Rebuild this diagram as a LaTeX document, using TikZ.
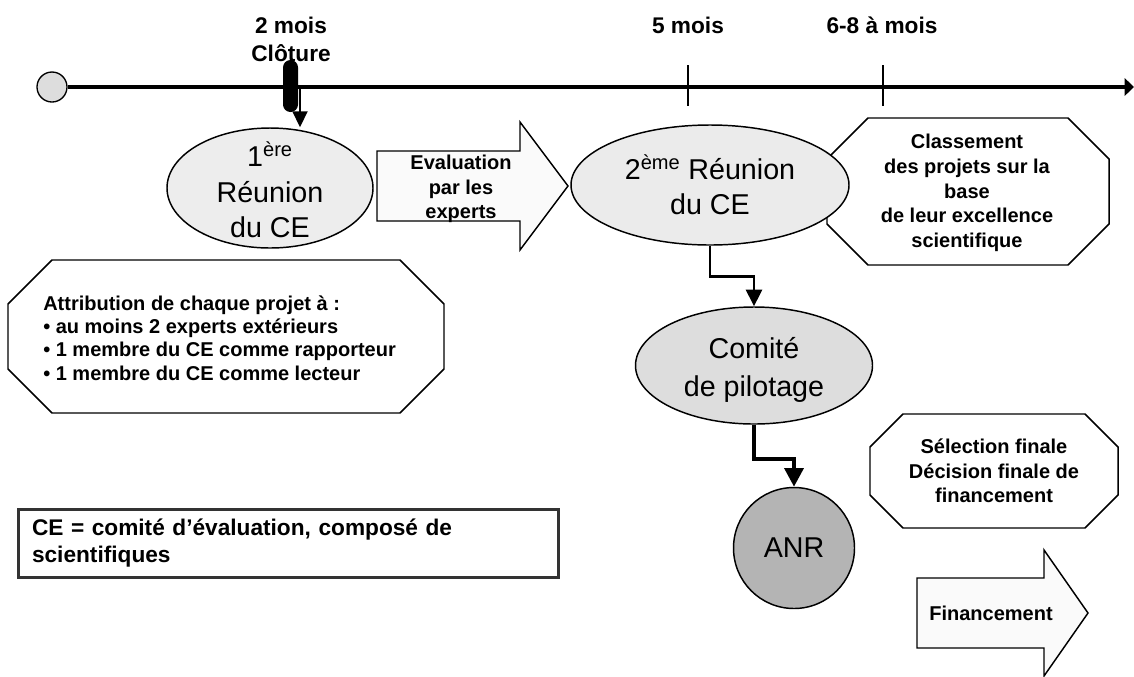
\documentclass[tikz,border=0pt]{standalone}
\usepackage{fontspec}
\setmainfont{Liberation Sans}
\usetikzlibrary{arrows.meta,shapes.geometric}
\definecolor{ellA}{HTML}{EDEDED}
\definecolor{ellB}{HTML}{EBEBEB}
\definecolor{ellC}{HTML}{DDDDDD}
\definecolor{anrC}{HTML}{B4B4B4}
\definecolor{arrF}{HTML}{FAFAFA}
\definecolor{boxB}{HTML}{333333}
\newcommand\myoct[5]{\draw[shp,fill=white] ({#1+#5},#2) -- ({#3-#5},#2) -- (#3,{#2+#5}) -- (#3,{#4-#5}) -- ({#3-#5},#4) -- ({#1+#5},#4) -- (#1,{#4-#5}) -- (#1,{#2+#5}) -- cycle;}
\begin{document}
\begin{tikzpicture}[x=0.75pt,y=-0.75pt,
  ell/.style={ellipse,draw=black,line width=1.1pt,inner sep=0pt,align=center},
  big/.style={font=\fontsize{21.5}{27}\selectfont},
  lbl/.style={font=\fontsize{15}{18.5}\selectfont\bfseries,align=center,inner sep=0pt},
  tlab/.style={font=\fontsize{17}{21}\selectfont\bfseries,align=center,inner sep=0pt},
  shp/.style={draw=black,line width=1.1pt,line join=miter},
  connA/.style={line width=2pt,-{Triangle[length=12.5pt,width=12pt]}},
  connB/.style={line width=3.2pt,-{Triangle[length=14pt,width=14pt]}},
]
\useasboundingbox (0,0) rectangle (1134,676);

% timeline
\node[circle,draw=black,line width=1pt,fill=ellC,minimum size=22.5pt,inner sep=0pt] (start) at (52,87) {};
\coordinate (tlend) at (1134,87);
\draw[line width=3pt,-{Triangle[length=7pt,width=13pt]}] (start.east) -- (tlend);
\draw[line width=1pt] (688,65) -- (688,106);
\draw[line width=1pt] (883,65) -- (883,106);

\node[tlab] (t2) at (291,39) {2 mois\\Clôture};
\node[tlab] (t5) at (688,25) {5 mois};
\node[tlab] (t68) at (882,25) {6-8 à mois};

% octagon behind second meeting
\myoct{827}{118}{1109}{265}{41}
\node[lbl] (cls) at (967,193) {Classement\\des projets sur la\\base\\de leur excellence\\scientifique};

% ellipses
\node[ell,fill=ellA,minimum width=154.5pt,minimum height=90pt] (e1) at (270,188) {};
\node[big,align=center,inner sep=0pt,font=\fontsize{21.5}{26.5}\selectfont] (e1t) at (270,190) {1\textsuperscript{ère}\\Réunion\\du CE};
\node[ell,big,fill=ellB,minimum width=208.5pt,minimum height=90pt,font=\fontsize{21.5}{26}\selectfont] (e2) at (710,185) {2\textsuperscript{ème} Réunion\\du CE};
\node[ell,fill=ellC,minimum width=177.75pt,minimum height=87.75pt] (com) at (754,365.5) {};
\node[big,align=center,inner sep=0pt,font=\fontsize{21.5}{28}\selectfont] (comt) at (754,370) {Comité\\de pilotage};
\node[circle,draw=black,line width=1.1pt,fill=anrC,minimum size=90.75pt,inner sep=0pt,big] (anr) at (794,548) {ANR};

% closing marker
\node[fill=black,rounded corners=5.6pt,minimum width=11.25pt,minimum height=39pt,inner sep=0pt] (clot) at (290.5,86) {};
\coordinate (a1) at (300,88);
\draw[line width=1.5pt,-{Triangle[length=12pt,width=11.25pt]}] (a1) -- (a1 |- e1.north);

% evaluation arrow
\draw[shp,fill=arrF] (377,151) -- (520,151) -- (520,122) -- (568,186) -- (520,250) -- (520,221) -- (377,221) -- cycle;
\node[lbl] (eval) at (461,189) {Evaluation\\par les\\experts};

% attribution octagon
\myoct{8}{260}{444}{413}{44}
\node[lbl,align=left,anchor=west,font=\fontsize{15}{17.6}\selectfont\bfseries] (attr) at (43,338) {Attribution de chaque projet à :\\• au moins 2 experts extérieurs\\• 1 membre du CE comme rapporteur\\• 1 membre du CE comme lecteur};

% selection octagon
\myoct{870}{414}{1118}{528}{33}
\node[lbl] (sel) at (994,471) {Sélection finale\\Décision finale de\\financement};

% financement arrow
\draw[shp,fill=arrF] (917,578) -- (1044,578) -- (1044,550) -- (1088,613) -- (1044,676) -- (1044,648) -- (917,648) -- cycle;
\node[lbl] (fin) at (991,613) {Financement};

% CE legend box
\node[draw=boxB,line width=2.25pt,minimum width=405pt,minimum height=51pt,inner sep=0pt,text width=384pt,align=left,font=\fontsize{17}{20.2}\selectfont\bfseries] (cebox) at (288,543) {CE = comité d’évaluation, composé de\\scientifiques};

% connectors
\draw[connA] (e2.south) -- ++(0,31) -| (com.north);
\draw[connB] (com.south) -- ++(0,34) -| (anr.north);
\end{tikzpicture}
\end{document}
